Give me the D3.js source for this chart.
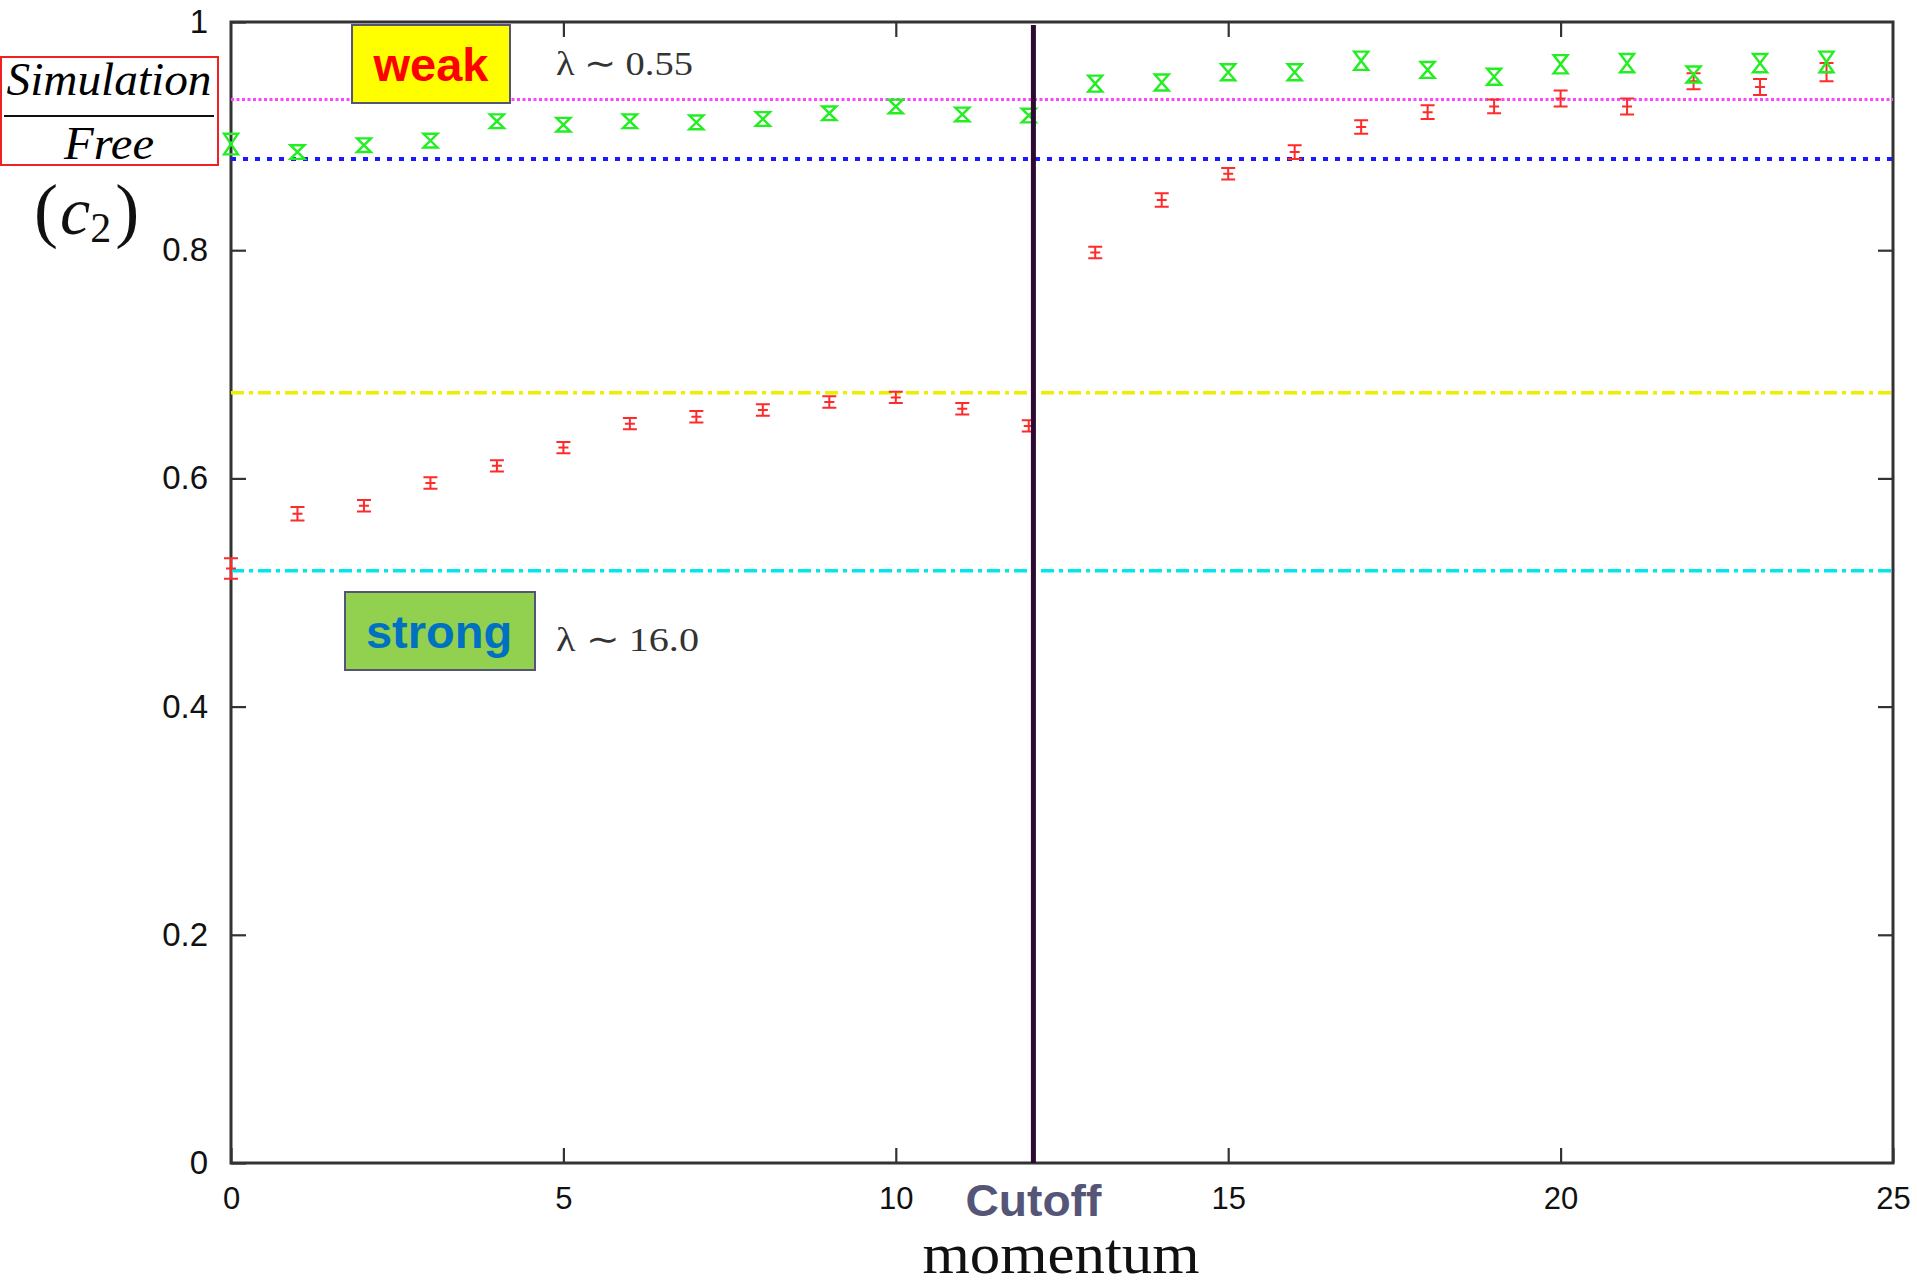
<!DOCTYPE html>
<html>
<head>
<meta charset="utf-8">
<script src="https://cdn.jsdelivr.net/npm/d3@7"></script>
<style>
  body { margin: 0; background: #fff; }
</style>
</head>
<body>
<script>
// data
let momentum = [0, 1, 2, 3, 4, 5, 6, 7, 8, 9, 10, 11, 12, 13, 14, 15, 16, 17, 18, 19, 20, 21, 22, 23, 24];
let strongVal = [0.521, 0.569, 0.576, 0.596, 0.611, 0.627, 0.648, 0.654, 0.660, 0.667, 0.671, 0.661, 0.646,
                 0.798, 0.844, 0.867, 0.886, 0.908, 0.921, 0.926, 0.933, 0.926, 0.948, 0.943, 0.956];
let strongErr = [0.009, 0.006, 0.005, 0.005, 0.005, 0.005, 0.005, 0.005, 0.005, 0.005, 0.005, 0.005, 0.005,
                 0.005, 0.006, 0.005, 0.006, 0.006, 0.006, 0.006, 0.007, 0.007, 0.007, 0.007, 0.008];
let weakVal = [0.893, 0.886, 0.892, 0.896, 0.913, 0.910, 0.913, 0.912, 0.915, 0.920, 0.926, 0.919, 0.918,
               0.946, 0.947, 0.956, 0.956, 0.966, 0.958, 0.952, 0.963, 0.964, 0.954, 0.964, 0.965];
let weakErr = [0.009, 0.006, 0.006, 0.006, 0.006, 0.006, 0.006, 0.006, 0.006, 0.006, 0.006, 0.006, 0.006,
               0.007, 0.007, 0.007, 0.007, 0.008, 0.007, 0.007, 0.008, 0.008, 0.007, 0.008, 0.009];

// horizontal reference levels
let refNames = ["weakHigh", "weakLow", "strongHigh", "strongLow"];
let refValues = [0.932, 0.880, 0.675, 0.519];
let refColors = ["#ff44ff", "#1a1aff", "#eeee00", "#00e8ee"];
let refDash = ["3,2.5", "5,7", "13,5,4,5", "13,5,4,5"];
let refWidth = [3, 4, 3.5, 3.5];

let cutoff = 12.07;
let xTicks = [0, 5, 10, 15, 20, 25];
let yTicks = [0, 0.2, 0.4, 0.6, 0.8, 1];

let width = 1917;
let height = 1285;
let plotLeft = 231, plotRight = 1893, plotTop = 22, plotBottom = 1163;

let svg = d3.select("body")
    .append("svg")
    .attr("width", width)
    .attr("height", height);

let scaleX = d3.scaleLinear().domain([0, 25]).range([plotLeft, plotRight]);
let scaleY = d3.scaleLinear().domain([0, 1]).range([plotBottom, plotTop]);

let tickLen = 15;
let fmt = d3.format("~g");

// axes with inward ticks on all four sides
let gBottom = svg.append("g")
    .attr("transform", `translate(0, ${plotBottom})`)
    .call(d3.axisBottom(scaleX).tickValues(xTicks).tickSize(-tickLen).tickPadding(24).tickFormat(fmt));
let gTop = svg.append("g")
    .attr("transform", `translate(0, ${plotTop})`)
    .call(d3.axisTop(scaleX).tickValues(xTicks.slice(1, -1)).tickSize(-tickLen).tickFormat(""));
let gLeft = svg.append("g")
    .attr("transform", `translate(${plotLeft}, 0)`)
    .call(d3.axisLeft(scaleY).tickValues(yTicks).tickSize(-tickLen).tickPadding(23).tickFormat(fmt));
let gRight = svg.append("g")
    .attr("transform", `translate(${plotRight}, 0)`)
    .call(d3.axisRight(scaleY).tickValues(yTicks.slice(1, -1)).tickSize(-tickLen).tickFormat(""));

[gBottom, gTop, gLeft, gRight].forEach(g => {
    g.select(".domain").remove();
    g.selectAll(".tick line").attr("stroke", "#333").attr("stroke-width", 2.2);
    g.selectAll(".tick text")
        .attr("fill", "#111")
        .style("font-family", "'Liberation Sans', Arial, sans-serif");
});
gBottom.selectAll(".tick text").style("font-size", "31px");
gLeft.selectAll(".tick text").style("font-size", "33px");

// plot frame
svg.append("rect")
    .attr("x", plotLeft).attr("y", plotTop)
    .attr("width", plotRight - plotLeft).attr("height", plotBottom - plotTop)
    .attr("fill", "none")
    .attr("stroke", "#333")
    .attr("stroke-width", 3);

// reference lines
svg.selectAll(".ref")
    .data(refValues)
    .enter()
    .append("line")
    .attr("x1", plotLeft).attr("x2", plotRight)
    .attr("y1", d => scaleY(d)).attr("y2", d => scaleY(d))
    .attr("stroke", (d, i) => refColors[i])
    .attr("stroke-width", (d, i) => refWidth[i])
    .attr("stroke-dasharray", (d, i) => refDash[i]);

// strong coupling points (red error bars)
let red = "#ff2a2a";
let gs = svg.append("g").attr("stroke", red).attr("stroke-width", 2).attr("fill", "none");
momentum.forEach((m, i) => {
    let x = scaleX(m);
    let y0 = scaleY(strongVal[i] - strongErr[i]);
    let y1 = scaleY(strongVal[i] + strongErr[i]);
    let yc = scaleY(strongVal[i]);
    gs.append("path")
        .attr("d", `M${x},${y0}V${y1}M${x - 7},${y0}H${x + 7}M${x - 7},${y1}H${x + 7}M${x - 5},${yc}H${x + 5}`);
});

// weak coupling points (green hourglass markers)
let green = "#22ee22";
let gw = svg.append("g").attr("stroke", green).attr("stroke-width", 2.4).attr("fill", "none");
momentum.forEach((m, i) => {
    let x = scaleX(m);
    let y0 = scaleY(weakVal[i] - weakErr[i]);
    let y1 = scaleY(weakVal[i] + weakErr[i]);
    gw.append("path")
        .attr("d", `M${x - 7},${y1}H${x + 7}L${x - 7},${y0}H${x + 7}Z`);
});

// cutoff line
svg.append("line")
    .attr("x1", scaleX(cutoff)).attr("x2", scaleX(cutoff))
    .attr("y1", plotTop + 3).attr("y2", plotBottom)
    .attr("stroke", "#2d0a33")
    .attr("stroke-width", 5);

svg.append("text")
    .attr("x", scaleX(cutoff)).attr("y", 1216)
    .attr("text-anchor", "middle")
    .attr("textLength", 136).attr("lengthAdjust", "spacingAndGlyphs")
    .attr("fill", "#555577")
    .style("font-family", "'Liberation Sans', Arial, sans-serif")
    .style("font-weight", "bold")
    .style("font-size", "45px")
    .text("Cutoff");

// x axis title
svg.append("text")
    .attr("x", 1061).attr("y", 1273)
    .attr("text-anchor", "middle")
    .attr("textLength", 277).attr("lengthAdjust", "spacingAndGlyphs")
    .attr("fill", "#111")
    .style("font-family", "'Liberation Serif', 'Times New Roman', serif")
    .style("font-size", "56px")
    .text("momentum");

// y axis title: Simulation / Free, (c2)
let serif = "'Liberation Serif', 'Times New Roman', serif";
svg.append("rect")
    .attr("x", 1).attr("y", 57).attr("width", 217).attr("height", 108)
    .attr("fill", "none").attr("stroke", "#ee2222").attr("stroke-width", 2);
svg.append("text")
    .attr("x", 109).attr("y", 95).attr("text-anchor", "middle")
    .attr("textLength", 205).attr("lengthAdjust", "spacingAndGlyphs")
    .style("font-family", serif).style("font-style", "italic").style("font-size", "46px")
    .text("Simulation");
svg.append("line")
    .attr("x1", 4).attr("x2", 214).attr("y1", 116).attr("y2", 116)
    .attr("stroke", "#111").attr("stroke-width", 2);
svg.append("text")
    .attr("x", 109).attr("y", 159).attr("text-anchor", "middle")
    .attr("textLength", 90).attr("lengthAdjust", "spacingAndGlyphs")
    .style("font-family", serif).style("font-style", "italic").style("font-size", "46px")
    .text("Free");

let c2 = svg.append("text")
    .attr("x", 34).attr("y", 234)
    .style("font-family", serif).style("font-size", "72px").attr("fill", "#111");
c2.append("tspan").style("font-weight", "300").text("(");
c2.append("tspan").style("font-style", "italic").style("font-size", "68px").attr("dx", 2).text("c");
c2.append("tspan").style("font-size", "42px").attr("dy", 8).text("2");
c2.append("tspan").attr("dy", -8).attr("dx", 4).text(")");

// weak / strong labels
let sans = "'Liberation Sans', Arial, sans-serif";
svg.append("rect")
    .attr("x", 352).attr("y", 25).attr("width", 158).attr("height", 78)
    .attr("fill", "#ffff00").attr("stroke", "#555577").attr("stroke-width", 2);
svg.append("text")
    .attr("x", 431).attr("y", 81).attr("text-anchor", "middle")
    .attr("fill", "#ff0000")
    .style("font-family", sans).style("font-weight", "bold").style("font-size", "47px")
    .text("weak");
svg.append("text")
    .attr("x", 556).attr("y", 75)
    .attr("textLength", 137).attr("lengthAdjust", "spacingAndGlyphs")
    .attr("fill", "#333")
    .style("font-family", serif).style("font-size", "34px")
    .text("λ ∼ 0.55");

svg.append("rect")
    .attr("x", 345).attr("y", 592).attr("width", 190).attr("height", 78)
    .attr("fill", "#92d050").attr("stroke", "#555577").attr("stroke-width", 2);
svg.append("text")
    .attr("x", 439).attr("y", 648).attr("text-anchor", "middle")
    .attr("fill", "#0070c0")
    .style("font-family", sans).style("font-weight", "bold").style("font-size", "47px")
    .text("strong");
svg.append("text")
    .attr("x", 556).attr("y", 651)
    .attr("textLength", 143).attr("lengthAdjust", "spacingAndGlyphs")
    .attr("fill", "#333")
    .style("font-family", serif).style("font-size", "34px")
    .text("λ ∼ 16.0");
</script>
</body>
</html>
